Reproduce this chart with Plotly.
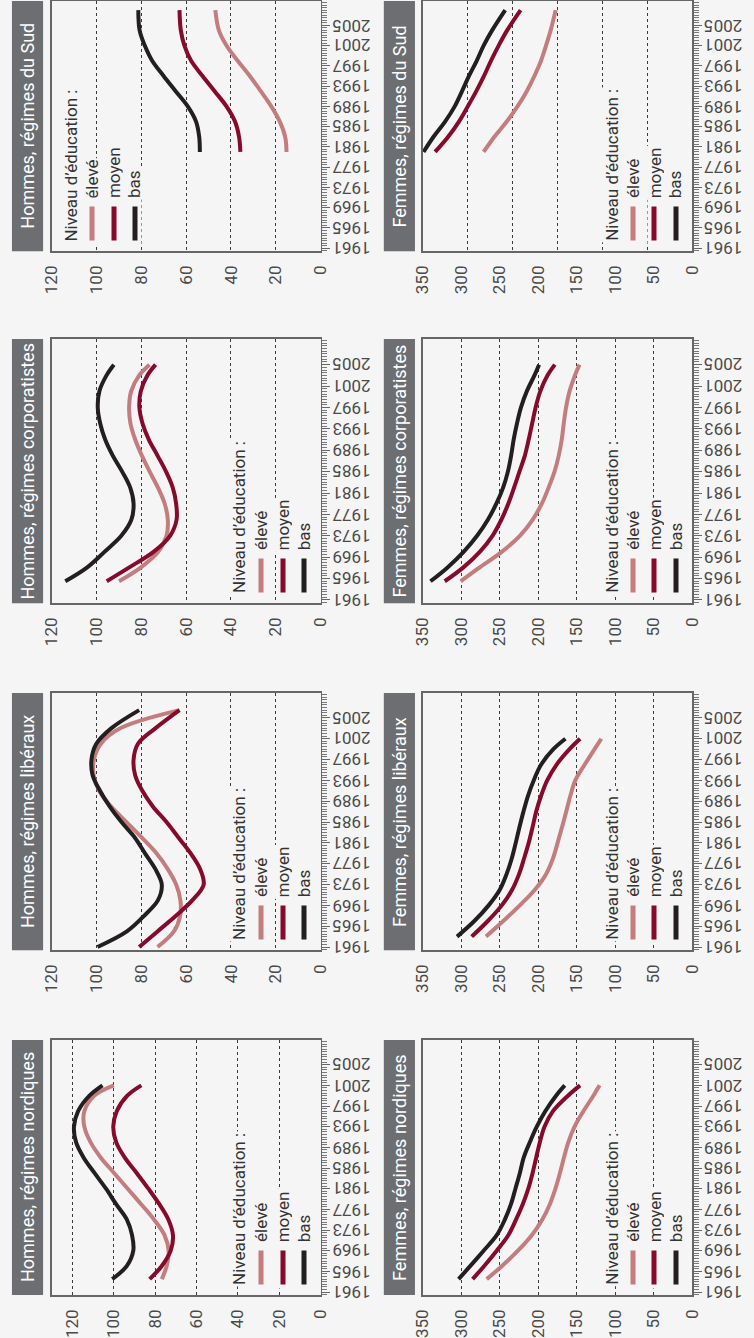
import plotly.graph_objects as go

# ---------------- data ----------------
levels = ["élevé", "moyen", "bas"]
legend_title = "Niveau d’éducation :"

year_ticks = [1961, 1965, 1969, 1973, 1977, 1981, 1985, 1989, 1993, 1997, 2001, 2005]
year_labels = [str(y) for y in year_ticks]
value_ticks_h = [0, 20, 40, 60, 80, 100, 120]
value_ticks_f = [0, 50, 100, 150, 200, 250, 300, 350]
grid_h = [20, 40, 60, 80, 100]
grid_h_nord = [20, 40, 60, 80, 100, 120]
grid_f = [50, 100, 150, 200, 250, 300]
grid_f_sud = [58.33, 116.67, 175, 233.33, 291.67]

years_sud = [1980, 1983, 1986, 1989, 1992, 1995, 1998, 2001, 2004, 2008]
h_sud_eleve = [15.2, 15.8, 18.2, 22.0, 26.7, 31.6, 37.0, 42.0, 45.4, 47.0]
h_sud_moyen = [35.8, 36.4, 38.2, 42.0, 47.3, 52.7, 57.8, 60.8, 62.4, 63.0]
h_sud_bas = [53.9, 54.2, 55.6, 59.3, 64.7, 70.1, 75.2, 78.5, 80.8, 81.4]
f_sud_eleve = [271, 257, 241, 227, 215, 205, 196.5, 190, 184, 177.5]
f_sud_moyen = [334, 317, 303, 291.5, 280.5, 270.5, 261.5, 251.5, 240.5, 223]
f_sud_bas = [349, 336, 321, 308.5, 299, 290, 280, 271, 260, 243]

years_corp = [1964.5, 1967, 1970, 1973, 1976, 1979, 1982, 1985, 1988, 1991, 1994, 1997, 2000, 2003, 2005]
h_corp_eleve = [90, 80.5, 72.5, 68.8, 68.2, 69.6, 72.6, 76.3, 79.8, 82.8, 84.9, 85.5, 84.6, 81, 76.4]
h_corp_moyen = [95.5, 85.8, 74.6, 67.2, 64.3, 64.5, 66, 69, 72.8, 76.7, 79.5, 80.9, 80.3, 77.3, 73.7]
h_corp_bas = [114, 104.5, 96.5, 89, 84.5, 83.5, 85, 88.6, 92.8, 96.2, 98.4, 99.5, 98.8, 95.6, 92.3]
f_corp_eleve = [300.8, 277, 247.5, 224, 207.5, 195.5, 186.7, 179, 173.5, 169.6, 167, 164, 159.5, 152.5, 146.5]
f_corp_moyen = [321.5, 298, 276, 259.5, 248, 239, 231.5, 224.5, 217.5, 212.5, 208, 203.5, 197.5, 188, 178.5]
f_corp_bas = [340, 318.5, 297, 279.5, 265.5, 254.5, 245.7, 239.5, 235.3, 232, 227.7, 222.5, 215, 205, 199]

years_lib_h = [1961, 1964, 1967, 1970, 1973, 1976, 1979, 1982, 1985, 1988, 1991, 1994, 1997, 2000, 2003, 2006.5]
h_lib_eleve = [72.8, 65.5, 62.7, 62.6, 64.5, 68.3, 73.3, 79.8, 86.7, 93.6, 98.9, 101.3, 101.2, 98.2, 89.5, 63]
h_lib_moyen = [81, 72.8, 64.6, 57.2, 52.2, 53.8, 58, 63.4, 68.8, 74.9, 79.6, 82.8, 83.5, 81.6, 73.8, 63]
h_lib_bas = [99.6, 86.5, 78.8, 72.6, 70.9, 73.8, 78.4, 82.9, 88.9, 94.2, 98.5, 101.8, 102.3, 100.2, 93.5, 81]

years_lib_f = [1963, 1966, 1969, 1972, 1975, 1978, 1981, 1984, 1987, 1990, 1993, 1996, 1999, 2001]
f_lib_eleve = [268, 245.5, 224, 204.5, 190, 181, 175, 169.3, 163.8, 158.5, 152, 140, 127, 118.3]
f_lib_moyen = [286.5, 265.5, 247.5, 234, 225, 218.5, 212.5, 207.5, 202.8, 196.5, 188.5, 176.5, 159.5, 145.8]
f_lib_bas = [305.5, 283, 264.5, 250, 241.2, 234.5, 229.3, 224.5, 219.3, 213.5, 206, 196.5, 180.5, 164.8]

years_nord = [1963.5, 1966, 1969, 1972, 1975, 1978, 1981, 1984, 1987, 1990, 1993, 1996, 1999, 2001]
h_nord_eleve = [76.8, 74.5, 73.5, 75.5, 80.5, 86.8, 93.3, 99.8, 106.3, 111.3, 114.3, 114.3, 109.5, 100]
h_nord_moyen = [82.7, 76.9, 72.5, 71.4, 73.6, 78, 83.3, 88.9, 94.7, 98.9, 100.3, 98.6, 93.5, 86.7]
h_nord_bas = [100.8, 93.8, 90.6, 91.2, 93.7, 98.9, 103.8, 109.3, 114.6, 118.3, 119.3, 117.3, 111.8, 105.5]
f_nord_eleve = [267, 247.5, 226.5, 208.5, 195, 185, 177.8, 172, 166.8, 161, 153, 141.5, 128.5, 120.5]
f_nord_moyen = [285.3, 270.5, 254, 239, 229, 220.2, 213, 207.5, 202.8, 198, 192, 181, 161.5, 145.8]
f_nord_bas = [303.5, 288.5, 271, 254, 243.5, 235.5, 229.7, 224, 219, 211, 202, 191, 177, 165.7]

# ---------------- styling / layout ----------------
W, H = 754, 1338
BG = "#f5f5f5"
FONT = "Roboto"
TXT = "#4a4a4a"
TITLE_BG = "#6d6e71"
FRAME = "#666666"
level_colors = ["#c47d7e", "#850a2c", "#231f20"]

col_px = {"H": (43, 319), "F": (424, 701)}
title_px = {"H": (2, 34), "F": (384, 416)}
row_px = [(0, 251), (339, 604), (694, 952), (1042, 1298)]
legend_cols = {
    "H_left": [63, 84, 107, 128],
    "H": [235, 258, 280, 302],
    "F": [619, 640, 662, 684],
}
YEAR_RANGE = [1960.4, 2009.8]

panels = [
    dict(title="Hommes, régimes du Sud", col="H", row=0, years=years_sud,
         series=[h_sud_eleve, h_sud_moyen, h_sud_bas], vmax=120,
         ticks=value_ticks_h, grid=grid_h, legend="H_left"),
    dict(title="Femmes, régimes du Sud", col="F", row=0, years=years_sud,
         series=[f_sud_eleve, f_sud_moyen, f_sud_bas], vmax=350,
         ticks=value_ticks_f, grid=grid_f_sud, legend="F"),
    dict(title="Hommes, régimes corporatistes", col="H", row=1, years=years_corp,
         series=[h_corp_eleve, h_corp_moyen, h_corp_bas], vmax=120,
         ticks=value_ticks_h, grid=grid_h, legend="H"),
    dict(title="Femmes, régimes corporatistes", col="F", row=1, years=years_corp,
         series=[f_corp_eleve, f_corp_moyen, f_corp_bas], vmax=350,
         ticks=value_ticks_f, grid=grid_f, legend="F"),
    dict(title="Hommes, régimes libéraux", col="H", row=2, years=years_lib_h,
         series=[h_lib_eleve, h_lib_moyen, h_lib_bas], vmax=120,
         ticks=value_ticks_h, grid=grid_h, legend="H"),
    dict(title="Femmes, régimes libéraux", col="F", row=2, years=years_lib_f,
         series=[f_lib_eleve, f_lib_moyen, f_lib_bas], vmax=350,
         ticks=value_ticks_f, grid=grid_f, legend="F"),
    dict(title="Hommes, régimes nordiques", col="H", row=3, years=years_nord,
         series=[h_nord_eleve, h_nord_moyen, h_nord_bas], vmax=130,
         ticks=value_ticks_h, grid=grid_h_nord, legend="H"),
    dict(title="Femmes, régimes nordiques", col="F", row=3, years=years_nord,
         series=[f_nord_eleve, f_nord_moyen, f_nord_bas], vmax=350,
         ticks=value_ticks_f, grid=grid_f, legend="F"),
]


def px_x(v):
    return v / W


def px_y(v):
    return 1 - v / H


fig = go.Figure()
layout = {}
shapes = []
annotations = []

for i, p in enumerate(panels, start=1):
    sfx = "" if i == 1 else str(i)
    xid, yid = "x" + sfx, "y" + sfx
    x0, x1 = col_px[p["col"]]
    y0, y1 = row_px[p["row"]]

    for name, vals, color in zip(levels, p["series"], level_colors):
        fig.add_trace(go.Scatter(
            x=vals, y=p["years"], mode="lines", name=name,
            line=dict(color=color, width=4, shape="spline", smoothing=1.0),
            xaxis=xid, yaxis=yid, showlegend=False, hoverinfo="skip"))

    major_grid = set(p["grid"]).issubset(set(p["ticks"]))
    xa = dict(
        domain=[px_x(x0), px_x(x1)], range=[p["vmax"], 0], anchor=yid,
        tickmode="array", tickvals=p["ticks"], ticktext=[str(t) for t in p["ticks"]],
        tickangle=-90, ticks="", ticklabelstandoff=6,
        tickfont=dict(family=FONT, size=17, color=TXT),
        showline=True, linecolor=FRAME, linewidth=1.5, mirror=True,
        zeroline=False, fixedrange=True,
        showgrid=major_grid, gridcolor="#3a3a3a", gridwidth=1, griddash="dot",
    )
    if not major_grid:
        xa["minor"] = dict(tickmode="array", tickvals=p["grid"], showgrid=True,
                           gridcolor="#3a3a3a", gridwidth=1, griddash="dot", ticks="")
    ya = dict(
        domain=[px_y(y1), px_y(y0)], range=YEAR_RANGE, anchor=xid, side="right",
        tickmode="array", tickvals=year_ticks, showticklabels=False,
        ticks="outside", ticklen=8, tickwidth=1, tickcolor=FRAME,
        minor=dict(dtick=0.5, tick0=1961, ticks="outside", ticklen=5,
                   tickwidth=1, tickcolor="#777777", showgrid=False),
        showline=True, linecolor=FRAME, linewidth=1.5, mirror=True,
        showgrid=False, zeroline=False, fixedrange=True,
    )
    layout["xaxis" + sfx] = xa
    layout["yaxis" + sfx] = ya

    # year labels, upside down
    for yv, lab in zip(year_ticks, year_labels):
        annotations.append(dict(
            text=lab, x=px_x(x1 + 10), xref="paper", xanchor="left",
            y=yv, yref=yid, yanchor="middle", textangle=180, showarrow=False,
            font=dict(family=FONT, size=17, color=TXT)))

    # title box
    tx0, tx1 = title_px[p["col"]]
    shapes.append(dict(type="rect", xref="paper", yref="paper",
                       x0=px_x(tx0), x1=px_x(tx1), y0=px_y(y1), y1=px_y(y0),
                       fillcolor=TITLE_BG, line=dict(width=0), layer="below"))
    annotations.append(dict(
        text=p["title"], x=px_x((tx0 + tx1) / 2), y=px_y((y0 + y1) / 2),
        xref="paper", yref="paper", xanchor="center", yanchor="middle",
        textangle=-90, showarrow=False,
        font=dict(family=FONT, size=18, color="white")))

    # legend
    lx = legend_cols[p["legend"]]
    annotations.append(dict(
        text=legend_title, x=px_x(lx[0]), y=px_y(y1 - 8), xref="paper", yref="paper",
        xanchor="center", yanchor="bottom", textangle=-90, showarrow=False,
        bgcolor=BG, borderpad=1, font=dict(family=FONT, size=17, color="#333333")))
    for k, (name, color) in enumerate(zip(levels, level_colors)):
        cx = lx[k + 1]
        annotations.append(dict(
            text=name, x=px_x(cx), y=px_y(y1 - 51), xref="paper", yref="paper",
            xanchor="center", yanchor="bottom", textangle=-90, showarrow=False,
            bgcolor=BG, borderpad=1, font=dict(family=FONT, size=17, color="#333333")))
        annotations.append(dict(
            text="\u00a0", x=px_x(cx), y=px_y(y1 - 6), xref="paper", yref="paper",
            xanchor="center", yanchor="bottom", showarrow=False, width=12, height=46,
            bgcolor=BG, borderpad=0, font=dict(size=4, color=BG)))
        annotations.append(dict(
            text="\u00a0", x=px_x(cx), y=px_y(y1 - 10), xref="paper", yref="paper",
            xanchor="center", yanchor="bottom", showarrow=False, width=4, height=33,
            bgcolor=color, borderpad=0, font=dict(size=4, color=color)))

fig.update_layout(
    width=W, height=H, margin=dict(l=0, r=0, t=0, b=0),
    paper_bgcolor=BG, plot_bgcolor=BG, showlegend=False,
    font=dict(family=FONT, color=TXT),
    shapes=shapes, annotations=annotations, **layout,
)

fig.write_html(
    "out.html",
    config={"displayModeBar": False, "staticPlot": True},
    post_script="document.body.style.margin='0';document.body.style.overflow='hidden';",
)
